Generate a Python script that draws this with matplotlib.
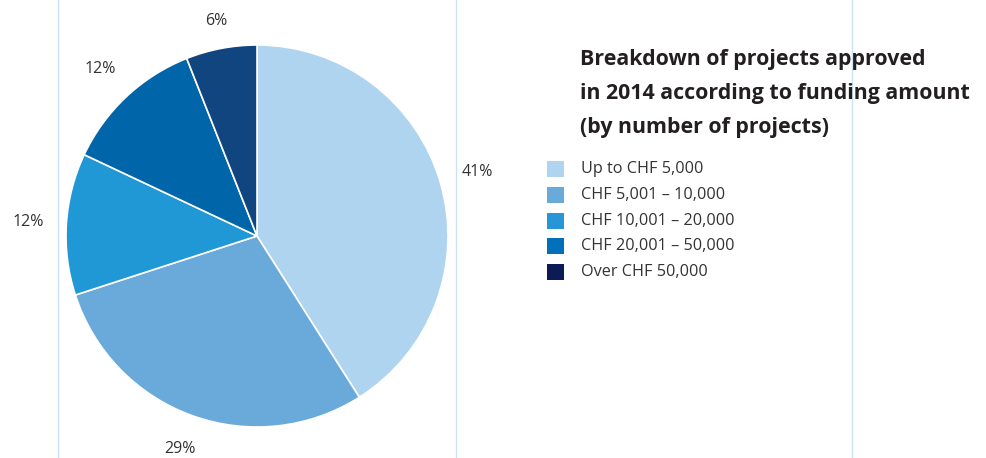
import matplotlib
matplotlib.use("Agg")
import matplotlib.pyplot as plt
from matplotlib.patches import Rectangle
from matplotlib.lines import Line2D

categories = ["Up to CHF 5,000", "CHF 5,001 \u2013 10,000", "CHF 10,001 \u2013 20,000",
              "CHF 20,001 \u2013 50,000", "Over CHF 50,000"]
shares = [41, 29, 12, 12, 6]
pie_colors = ["#aed4f0", "#6aaadb", "#2098d6", "#0066a9", "#10457f"]
legend_colors = ["#aed4f0", "#6aaadb", "#2696d6", "#0070ba", "#0d1b54"]
title_lines = ["Breakdown of projects approved",
               "in 2014 according to funding amount",
               "(by number of projects)"]

W, H = 987, 458
fig = plt.figure(figsize=(W / 100, H / 100), dpi=100)
fig.patch.set_facecolor("white")

def fx(px):
    return px / W

def fy(py):
    return 1 - py / H

# vertical guide lines
for x in [58, 456, 852]:
    fig.add_artist(Line2D([fx(x), fx(x)], [0, 1], transform=fig.transFigure,
                          color="#c9e2f5", lw=1.0))

# pie
cx, cy, r = 257, 236, 191
ax = fig.add_axes([fx(cx - r), fy(cy + r), 2 * r / W, 2 * r / H])
wedges, texts = ax.pie(shares, colors=pie_colors, startangle=90, counterclock=False,
                       labels=[f"{v}%" for v in shares], labeldistance=1.2,
                       wedgeprops=dict(edgecolor="white", linewidth=1.2),
                       textprops=dict(fontsize=11.5, color="#333333", family="Open Sans"))
label_scale = [1.0, 0.99, 1.0, 1.0, 0.955]
for t, s in zip(texts, label_scale):
    t.set_ha("center")
    t.set_va("center")
    x, y = t.get_position()
    t.set_position((x * s, y * s))
ax.set_xlim(-1, 1)
ax.set_ylim(-1, 1)
ax.set_aspect("equal")
ax.axis("off")

# title
for i, line in enumerate(title_lines):
    fig.text(fx(580), fy(60 + i * 33.5), line, fontsize=15.4, fontweight="bold",
             family="Open Sans", color="#231f20", va="center", ha="left")

# legend
for i, (lab, col) in enumerate(zip(categories, legend_colors)):
    yc = 169 + i * 25.8
    fig.add_artist(Rectangle((fx(547), fy(yc + 8)), 17 / W, 16 / H,
                             transform=fig.transFigure, facecolor=col, edgecolor="none"))
    fig.text(fx(581), fy(yc), lab, fontsize=11.7, family="Open Sans",
             color="#333333", va="center", ha="left")

fig.savefig("out.png", dpi=100, facecolor="white")
